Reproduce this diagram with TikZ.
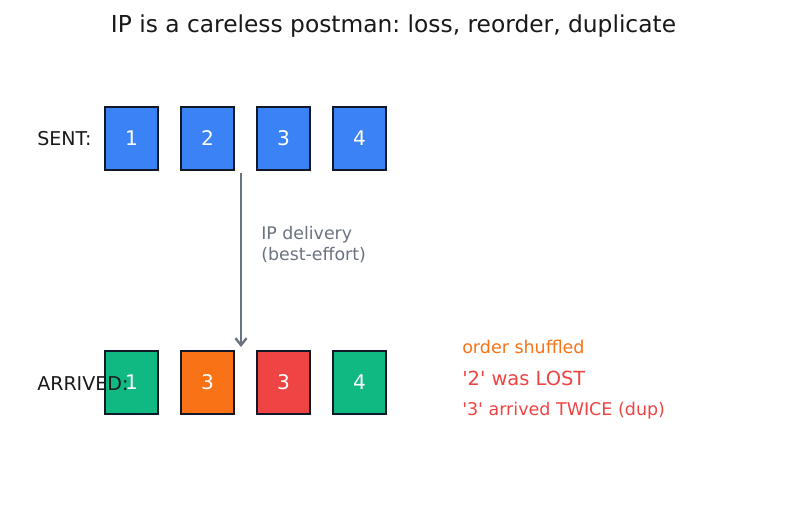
\documentclass[tikz,border=0pt]{standalone}
\usepackage{fontspec}
\setmainfont{DejaVu Sans}[Ligatures=TeXOff]
\usetikzlibrary{arrows.meta}
\frenchspacing
\definecolor{cblue}{HTML}{3B82F6}
\definecolor{cgreen}{HTML}{10B981}
\definecolor{corange}{HTML}{F97316}
\definecolor{cred}{HTML}{EF4444}
\definecolor{cgray}{HTML}{6B7280}
\definecolor{cdark}{HTML}{111827}
\begin{document}
\begin{tikzpicture}[x=0.72pt,y=-0.72pt,
  pkt/.style={draw=cdark,line width=1.1pt,minimum width=53*0.72pt,minimum height=63*0.72pt,inner sep=0pt,text=white,font=\fontsize{14.5}{17}\selectfont},
  rowlabel/.style={anchor=base west,inner sep=0pt,text=black!90,font=\fontsize{13.7}{16}\selectfont},
  note/.style={anchor=base west,inner sep=0pt,font=\fontsize{12.6}{15}\selectfont}]
\useasboundingbox[fill=white] (0,0) rectangle (787,510);
\node[anchor=base,inner sep=0pt,text=black!90,font=\fontsize{16.8}{20}\selectfont] (title) at (393.5,32) {IP is a careless postman: loss, reorder, duplicate};
\node[rowlabel] (sentlbl) at (37,145) {SENT:};
\node[pkt,fill=cblue] (s1) at (131.5,138.5) {1};
\node[pkt,fill=cblue] (s2) at (207.5,138.5) {2};
\node[pkt,fill=cblue] (s3) at (283.5,138.5) {3};
\node[pkt,fill=cblue] (s4) at (359.5,138.5) {4};
\node[pkt,fill=cgreen] (a1) at (131.5,382.5) {1};
\node[pkt,fill=corange] (a2) at (207.5,382.5) {3};
\node[pkt,fill=cred] (a3) at (283.5,382.5) {3};
\node[pkt,fill=cgreen] (a4) at (359.5,382.5) {4};
\node[rowlabel] (arrlbl) at (37,390) {ARRIVED:};
\coordinate (arrtop) at (241,173);
\coordinate (arrbot) at (241,347);
\draw[cgray,line width=1.7pt,-{Straight Barb[length=5pt,width=8pt]}] (arrtop) -- (arrbot);
\node[anchor=north west,inner sep=0pt,align=left,text=cgray,font=\fontsize{12.5}{15.2}\selectfont] (dlbl) at (261,226) {IP delivery\\(best-effort)};
\node[note,text=corange] (n1) at (462,353) {order shuffled};
\node[note,text=cred,font=\fontsize{14}{17}\selectfont] (n2) at (462,385) {'2' was LOST};
\node[note,text=cred] (n3) at (462,415) {'3' arrived TWICE (dup)};
\end{tikzpicture}
\end{document}
